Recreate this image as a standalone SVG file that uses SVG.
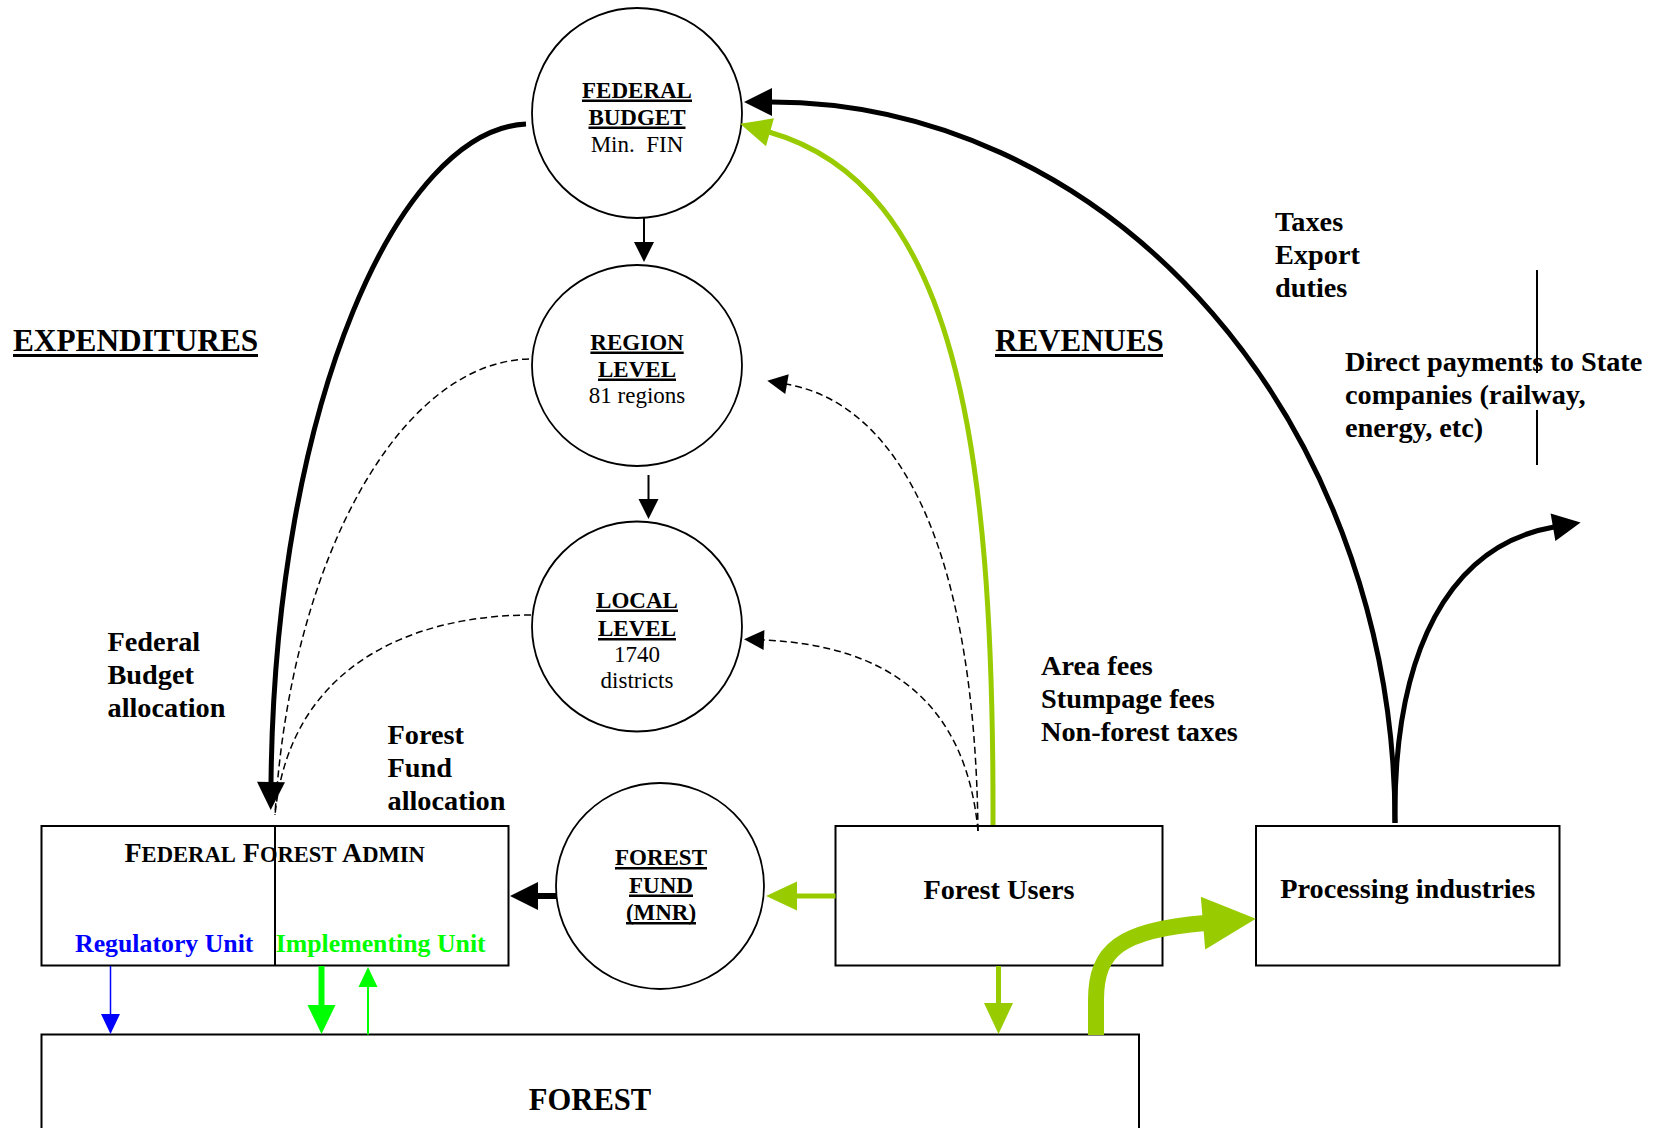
<svg xmlns="http://www.w3.org/2000/svg" width="1669" height="1128" viewBox="0 0 1669 1128">
<style>
.t{font-family:"Liberation Serif","Times New Roman",serif;fill:#000}
.b{font-weight:bold}
.box{fill:#fff;stroke:#000;stroke-width:2}
.circ{fill:#fff;stroke:#000;stroke-width:1.8}
.ul{fill:#000}
.c23{font-size:23px;text-anchor:middle}
.lbl{font-size:28.3px;font-weight:bold}
.dash{fill:none;stroke:#000;stroke-width:1.5;stroke-dasharray:7,4}
</style>
<defs>
<marker id="hBlk" markerUnits="userSpaceOnUse" markerWidth="28" markerHeight="28" refX="1" refY="14" orient="auto" overflow="visible"><path d="M0,0L28,14L0,28z" fill="#000"/></marker>
<marker id="hBlkS" markerUnits="userSpaceOnUse" markerWidth="20" markerHeight="20" refX="1" refY="10" orient="auto" overflow="visible"><path d="M0,0L20,10L0,20z" fill="#000"/></marker>
<marker id="hYG" markerUnits="userSpaceOnUse" markerWidth="31" markerHeight="29" refX="1" refY="14.5" orient="auto" overflow="visible"><path d="M0,0L31,14.5L0,29z" fill="#99CC00"/></marker>
<marker id="hYGBig" markerUnits="userSpaceOnUse" markerWidth="53" markerHeight="53" refX="2" refY="26.5" orient="auto" overflow="visible"><path d="M0,0L53,26.5L0,53z" fill="#99CC00"/></marker>
<marker id="hGrn" markerUnits="userSpaceOnUse" markerWidth="29" markerHeight="28" refX="1" refY="14" orient="auto" overflow="visible"><path d="M0,0L29,14L0,28z" fill="#00FF00"/></marker>
<marker id="hGrnS" markerUnits="userSpaceOnUse" markerWidth="20" markerHeight="19" refX="1" refY="9.5" orient="auto" overflow="visible"><path d="M0,0L20,9.5L0,19z" fill="#00FF00"/></marker>
<marker id="hBlu" markerUnits="userSpaceOnUse" markerWidth="20" markerHeight="19" refX="1" refY="9.5" orient="auto" overflow="visible"><path d="M0,0L20,9.5L0,19z" fill="#0000FF"/></marker>
</defs>
<rect width="1669" height="1128" fill="#fff"/>

<g id="labels">
<text class="t b" x="13" y="350.5" font-size="31.3">EXPENDITURES</text>
<rect class="ul" x="13" y="354" width="245" height="3"/>
<text class="t b" x="995" y="350.5" font-size="31">REVENUES</text>
<rect class="ul" x="995" y="354" width="168" height="3"/>
<text class="t lbl"><tspan x="1275" y="231">Taxes</tspan><tspan x="1275" y="264">Export</tspan><tspan x="1275" y="297">duties</tspan></text>
<text class="t lbl"><tspan x="1345" y="371">Direct payments to State</tspan><tspan x="1345" y="404">companies (railway,</tspan><tspan x="1345" y="437">energy, etc)</tspan></text>
<line x1="1537" y1="270" x2="1537" y2="373" stroke="#000" stroke-width="2"/>
<line x1="1537" y1="410" x2="1537" y2="465" stroke="#000" stroke-width="2"/>
<text class="t lbl"><tspan x="107.5" y="651">Federal</tspan><tspan x="107.5" y="684">Budget</tspan><tspan x="107.5" y="717">allocation</tspan></text>
<text class="t lbl"><tspan x="387.5" y="744">Forest</tspan><tspan x="387.5" y="777">Fund</tspan><tspan x="387.5" y="810">allocation</tspan></text>
<text class="t lbl"><tspan x="1041" y="675">Area fees</tspan><tspan x="1041" y="708">Stumpage fees</tspan><tspan x="1041" y="741">Non-forest taxes</tspan></text>
</g>

<g id="federal-budget">
<circle class="circ" cx="637" cy="113" r="105"/>
<text class="t b c23" x="637" y="97.5">FEDERAL</text>
<rect class="ul" x="582" y="99.5" width="110" height="2.5"/>
<text class="t b c23" x="637" y="124.5">BUDGET</text>
<rect class="ul" x="588.5" y="126.5" width="97" height="2.5"/>
<text class="t c23" x="637" y="152">Min.&#160; FIN</text>
</g>

<g id="region-level">
<ellipse class="circ" cx="637" cy="365.5" rx="105" ry="100.5"/>
<text class="t b c23" x="637" y="349.5">REGION</text>
<rect class="ul" x="590.4" y="351.5" width="93.3" height="2.5"/>
<text class="t b c23" x="637" y="376.5">LEVEL</text>
<rect class="ul" x="598" y="378.5" width="78" height="2.5"/>
<text class="t c23" x="637" y="403">81 regions</text>
</g>

<g id="local-level">
<circle class="circ" cx="637" cy="626.5" r="105"/>
<text class="t b c23" x="637" y="607.5">LOCAL</text>
<rect class="ul" x="596" y="609.5" width="82" height="2.5"/>
<text class="t b c23" x="637" y="636">LEVEL</text>
<rect class="ul" x="598" y="638" width="78" height="2.5"/>
<text class="t c23" x="637" y="662">1740</text>
<text class="t c23" x="637" y="688">districts</text>
</g>

<g id="forest-fund">
<ellipse class="circ" cx="660" cy="886" rx="104" ry="103"/>
<text class="t b c23" x="661" y="865">FOREST</text>
<rect class="ul" x="615" y="867" width="92" height="2.5"/>
<text class="t b c23" x="661" y="892.5">FUND</text>
<rect class="ul" x="629" y="894.5" width="64" height="2.5"/>
<text class="t b c23" x="661" y="920">(MNR)</text>
<rect class="ul" x="626" y="922" width="70" height="2.5"/>
</g>

<g id="federal-forest-admin">
<rect class="box" x="41.5" y="826" width="467" height="139.5"/>
<line x1="275" y1="826" x2="275" y2="965.5" stroke="#000" stroke-width="2"/>
<text class="t b" x="124.5" y="862" font-size="28">F<tspan font-size="22.6">EDERAL</tspan> F<tspan font-size="22.6">OREST</tspan> A<tspan font-size="22.6">DMIN</tspan></text>
<text class="t b" x="75" y="952" font-size="25.8" style="fill:#0000FF">Regulatory Unit</text>
<text class="t b" x="275.7" y="952" font-size="25.8" style="fill:#00FF00">Implementing Unit</text>
</g>

<g id="forest-users">
<rect class="box" x="835.5" y="826" width="327" height="139.5"/>
<text class="t lbl" x="999" y="899" text-anchor="middle">Forest Users</text>
</g>

<g id="processing-industries">
<rect class="box" x="1256" y="826" width="303.5" height="139.5"/>
<text class="t lbl" x="1407.7" y="897.5" text-anchor="middle">Processing industries</text>
</g>

<g id="forest">
<rect class="box" x="41.5" y="1034.5" width="1097.5" height="120"/>
<text class="t b" x="590" y="1110" font-size="30.6" text-anchor="middle">FOREST</text>
</g>

<g id="connectors">
<line x1="644" y1="218" x2="644" y2="243" stroke="#000" stroke-width="2" marker-end="url(#hBlkS)"/>
<line x1="648.5" y1="475" x2="648.5" y2="500" stroke="#000" stroke-width="2" marker-end="url(#hBlkS)"/>
<path d="M526,124 C400,130 275,400 271,783" fill="none" stroke="#000" stroke-width="5" marker-end="url(#hBlk)"/>
<path class="dash" d="M529,359 C400,362 290,560 275,815"/>
<path class="dash" d="M531,615 C420,615 290,660 275,815"/>
<line x1="557" y1="896" x2="537" y2="896" stroke="#000" stroke-width="6" marker-end="url(#hBlk)"/>
<line x1="835.5" y1="896" x2="796" y2="896" stroke="#99CC00" stroke-width="5" marker-end="url(#hYG)"/>
<line x1="998.5" y1="966" x2="998.5" y2="1004" stroke="#99CC00" stroke-width="5" marker-end="url(#hYG)"/>
<path d="M993,825 C994,440 955,185 769,132" fill="none" stroke="#99CC00" stroke-width="5" marker-end="url(#hYG)"/>
<path d="M1395,823 A624,721 0 0 0 771,102" fill="none" stroke="#000" stroke-width="5" marker-end="url(#hBlk)"/>
<path d="M1395,823 C1393,650 1450,545 1554,527" fill="none" stroke="#000" stroke-width="5" marker-end="url(#hBlk)"/>
<path class="dash" d="M978,831 C975,560 905,405 786,384" marker-end="url(#hBlkS)"/>
<path class="dash" d="M978,831 C966,700 885,645 763,640" marker-end="url(#hBlkS)"/>
<line x1="110.5" y1="966" x2="110.5" y2="1015" stroke="#0000FF" stroke-width="1.5" marker-end="url(#hBlu)"/>
<line x1="321.5" y1="966" x2="321.5" y2="1006" stroke="#00FF00" stroke-width="6" marker-end="url(#hGrn)"/>
<line x1="368" y1="1034.5" x2="368" y2="986" stroke="#00FF00" stroke-width="2" marker-end="url(#hGrnS)"/>
<path d="M1096,1035 L1096,1000 C1096,950 1120,930 1205,923" fill="none" stroke="#99CC00" stroke-width="16" marker-end="url(#hYGBig)"/>
</g>
</svg>
